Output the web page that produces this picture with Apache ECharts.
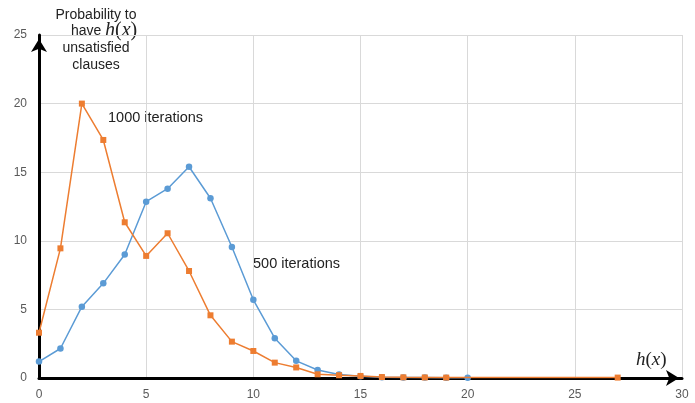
<!DOCTYPE html>
<html>
<head>
<meta charset="utf-8">
<script src="https://cdn.jsdelivr.net/npm/echarts@6/dist/echarts.min.js"></script>
<style>
html,body{margin:0;padding:0;background:#fff;}
#c{width:695px;height:403px;}
</style>
</head>
<body>
<div id="c"></div>
<script>
var xs500 = [0,1,2,3,4,5,6,7,8,9,10,11,12,13,14,15,16,17,18,19,20];
var ys500 = [1.2,2.15,5.2,6.9,9.0,12.85,13.8,15.4,13.1,9.55,5.7,2.9,1.25,0.58,0.25,0.12,0.06,0.04,0.03,0.02,0.02];
var xs1000 = [0,1,2,3,4,5,6,7,8,9,10,11,12,13,14,15,16,17,18,19,27];
var ys1000 = [3.3,9.45,20.0,17.35,11.35,8.9,10.55,7.8,4.57,2.65,1.97,1.12,0.77,0.27,0.2,0.15,0.07,0.05,0.04,0.03,0.03];
var xTicks = [0,5,10,15,20,25,30];
var yTicks = [0,5,10,15,20,25];
var seriesNames = ['500 iterations','1000 iterations'];
var yTitleLines = ['Probability to', 'have', 'unsatisfied', 'clauses'];

function pairs(a,b){return a.map(function(v,i){return [v,b[i]];});}

var chart = echarts.init(document.getElementById('c'));
var labelFont = 'Liberation Sans, Arial, sans-serif';
function mathRich(sz){
  return {
    m:{fontSize:sz,fontFamily:'Liberation Serif, serif',fontStyle:'italic',fill:'#222'},
    p:{fontSize:sz,fontFamily:'Liberation Serif, serif',fill:'#222'}
  };
}
var titleCx = 96;
var txtFont = '14px Liberation Sans, Arial, sans-serif';
chart.setOption({
  animation:false,
  grid:{left:39,right:13,top:35,bottom:25,containLabel:false},
  xAxis:{
    type:'value',min:xTicks[0],max:xTicks[xTicks.length-1],interval:5,
    axisLine:{show:true,lineStyle:{color:'#000',width:3},symbol:['none','arrow'],symbolSize:[12,13],symbolOffset:[0,-3]},
    axisTick:{show:false},
    axisLabel:{color:'#595959',fontSize:12,fontFamily:labelFont,margin:11},
    splitLine:{show:true,lineStyle:{color:'#d9d9d9',width:1}}
  },
  yAxis:{
    type:'value',min:yTicks[0],max:yTicks[yTicks.length-1],interval:5,
    axisLine:{show:true,lineStyle:{color:'#000',width:3},symbol:['none','arrow'],symbolSize:[12,13],symbolOffset:[0,-4]},
    axisTick:{show:false},
    axisLabel:{color:'#595959',fontSize:12,fontFamily:labelFont,margin:12},
    splitLine:{show:true,lineStyle:{color:'#d9d9d9',width:1}}
  },
  series:[
    {name:seriesNames[0],type:'line',data:pairs(xs500,ys500),symbol:'circle',symbolSize:6.5,
     lineStyle:{color:'#5B9BD5',width:1.5},itemStyle:{color:'#5B9BD5'},z:2},
    {name:seriesNames[1],type:'line',data:pairs(xs1000,ys1000),symbol:'rect',symbolSize:6,
     lineStyle:{color:'#ED7D31',width:1.5},itemStyle:{color:'#ED7D31'},z:3}
  ],
  graphic:[
    {type:'text',x:titleCx,y:15,style:{text:yTitleLines[0],align:'center',verticalAlign:'middle',fill:'#222',font:txtFont}},
    {type:'text',x:71,y:31,style:{text:yTitleLines[1],align:'left',verticalAlign:'middle',fill:'#222',font:txtFont}},
    {type:'text',x:105,y:31,style:{text:'{m|h}{p|(}{m|x}{p|)}',align:'left',verticalAlign:'middle',rich:mathRich(20)}},
    {type:'text',x:titleCx,y:48,style:{text:yTitleLines[2],align:'center',verticalAlign:'middle',fill:'#222',font:txtFont}},
    {type:'text',x:titleCx,y:65,style:{text:yTitleLines[3],align:'center',verticalAlign:'middle',fill:'#222',font:txtFont}},
    {type:'text',x:108,y:118,style:{text:seriesNames[1],verticalAlign:'middle',fill:'#222',font:'14.5px Liberation Sans, Arial, sans-serif'}},
    {type:'text',x:253,y:264,style:{text:seriesNames[0],verticalAlign:'middle',fill:'#222',font:'14.5px Liberation Sans, Arial, sans-serif'}},
    {type:'text',x:636,y:360,style:{text:'{m|h}{p|(}{m|x}{p|)}',verticalAlign:'middle',rich:mathRich(19)}}
  ]
});
</script>
</body>
</html>
